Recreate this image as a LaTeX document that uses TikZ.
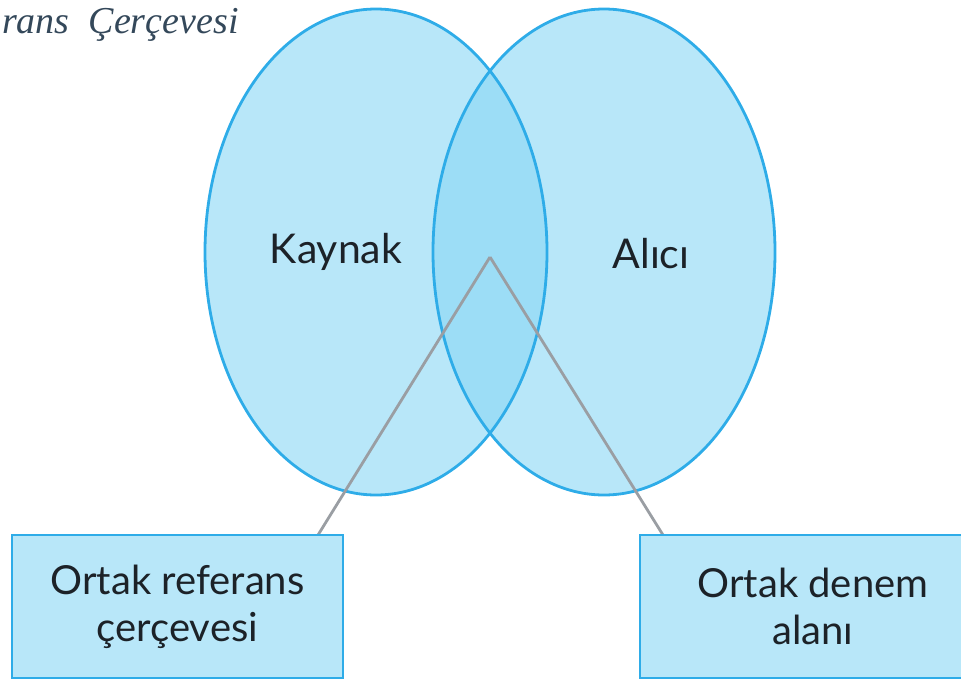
\documentclass[tikz,border=0pt]{standalone}
\usepackage{fontspec}
\setmainfont{Lato}
\newfontfamily\titlefont{Liberation Serif}
\definecolor{ellfill}{HTML}{B8E7F9}
\definecolor{midfill}{HTML}{9CDDF6}
\definecolor{ellline}{HTML}{2EACE8}
\definecolor{boxfill}{HTML}{B8E7F9}
\definecolor{conn}{HTML}{9A9EA3}
\definecolor{titlecol}{HTML}{34485A}
\definecolor{txt}{HTML}{1C2228}
\begin{document}
\begin{tikzpicture}[x=1pt,y=-1pt,
  lbl/.style={font=\fontsize{41}{46}\selectfont, text=txt},
  boxlbl/.style={draw=ellline, line width=2.6pt, fill=boxfill, font=\fontsize{40}{47}\selectfont, text=txt, align=center, inner sep=0pt},
  connline/.style={draw=conn, line width=2.8pt}]
\useasboundingbox (0,0) rectangle (961,681);
\clip (0,0) rectangle (961,681);
% ellipses
\fill[ellfill] (376,252) ellipse [x radius=171, y radius=243];
\fill[ellfill] (604,252) ellipse [x radius=171, y radius=243];
\begin{scope}
  \clip (376,252) ellipse [x radius=171, y radius=243];
  \fill[midfill] (604,252) ellipse [x radius=171, y radius=243];
\end{scope}
\draw[ellline, line width=2.8pt] (376,252) ellipse [x radius=171, y radius=243];
\draw[ellline, line width=2.8pt] (604,252) ellipse [x radius=171, y radius=243];
% labels
\node[lbl] (kaynak) at (336,252) {Kaynak};
\node[lbl] (alici) at (651,254) {Alıcı};
\coordinate (mid) at (490,257);
\coordinate (e1) at (318,535);
\coordinate (e2) at (663,535);
\draw[connline] (mid) -- (e1);
\draw[connline] (mid) -- (e2);
% boxes
\node[boxlbl, minimum width=331pt, minimum height=143pt] (b1) at (177.5,606.5) {Ortak referans\\çerçevesi};
\node[boxlbl, minimum width=346pt, minimum height=143pt] (b2) at (813,606.5) {Ortak denem\\alanı};
% title
\node[anchor=base west, inner sep=0pt, font=\titlefont\itshape\fontsize{38}{42}\selectfont, text=titlecol] (title) at (2,33) {rans\ \ Çerçevesi};
\end{tikzpicture}
\end{document}
